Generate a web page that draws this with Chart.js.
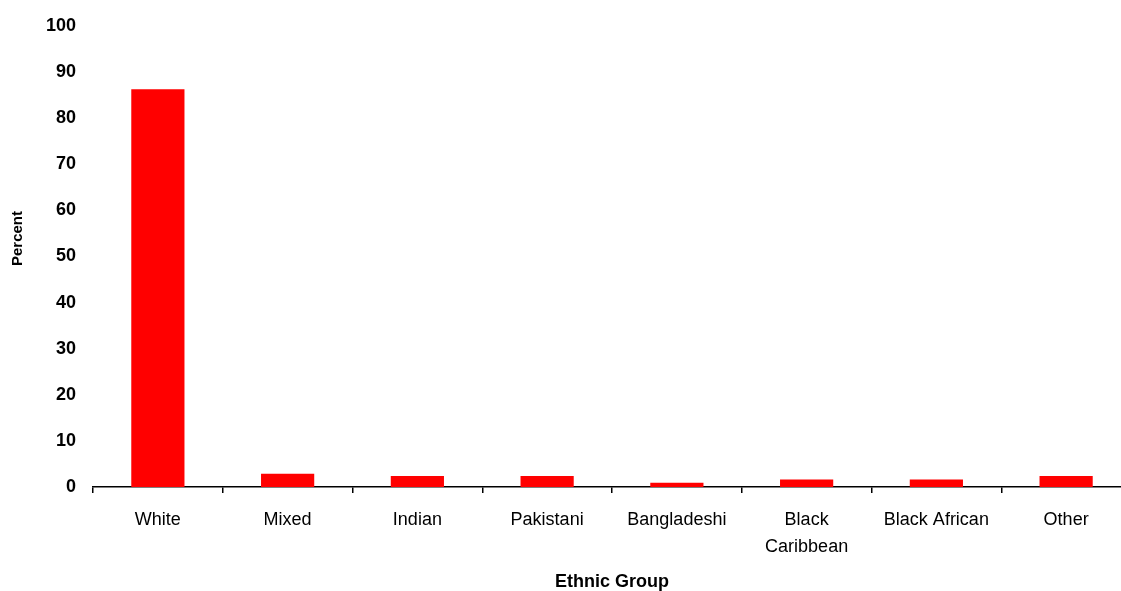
<!DOCTYPE html>
<html>
<head>
<meta charset="utf-8">
<script src="https://cdn.jsdelivr.net/npm/chart.js@4.4.1/dist/chart.umd.min.js"></script>
<style>
  html, body { margin: 0; padding: 0; background: #fff; overflow: hidden; }
  #wrap { position: relative; width: 1131px; height: 591px; }
</style>
</head>
<body>
<div id="wrap"><canvas id="chart"></canvas></div>
<script>
// Ethnic group shares, percent of population
const categories = ['White', 'Mixed', 'Indian', 'Pakistani', 'Bangladeshi', ['Black', 'Caribbean'], 'Black African', 'Other'];
const percentValues = [86.3, 2.9, 2.4, 2.4, 0.9, 1.6, 1.6, 2.4];
const yTicks = [0, 10, 20, 30, 40, 50, 60, 70, 80, 90, 100];
const yAxisTitle = 'Percent';

const FONT = '"Liberation Sans", Arial, sans-serif';

// Vertical axis title, placed a little above the middle of the plot
const yTitlePlugin = {
  id: 'yTitle',
  afterDraw(chart) {
    const { ctx, chartArea } = chart;
    ctx.save();
    ctx.translate(18, chartArea.bottom / 2 - 5);
    ctx.rotate(-Math.PI / 2);
    ctx.font = 'bold 15px ' + FONT;
    ctx.fillStyle = '#000';
    ctx.textAlign = 'center';
    ctx.textBaseline = 'middle';
    ctx.fillText(yAxisTitle, 0, 0);
    ctx.restore();
  }
};

new Chart(document.getElementById('chart'), {
  type: 'bar',
  data: {
    labels: categories,
    datasets: [{
      label: yAxisTitle,
      data: percentValues,
      backgroundColor: '#ff0000',
      borderWidth: 0,
      barPercentage: 0.41,
      categoryPercentage: 1.0
    }]
  },
  plugins: [yTitlePlugin],
  options: {
    responsive: true,
    maintainAspectRatio: false,
    animation: false,
    layout: { padding: { top: 0, right: 0, bottom: 0, left: 0 } },
    plugins: {
      legend: { display: false },
      tooltip: { enabled: false }
    },
    scales: {
      x: {
        offset: true,
        grid: {
          display: true,
          drawOnChartArea: false,
          drawTicks: true,
          tickLength: 6,
          color: '#000',
          lineWidth: 1.5,
          offset: true
        },
        border: { display: true, color: '#000', width: 1.5 },
        ticks: {
          color: '#000',
          maxRotation: 0,
          autoSkip: false,
          padding: 14,
          font: { family: FONT, size: 18, lineHeight: 1.5 }
        },
        title: {
          display: true,
          text: 'Ethnic Group',
          color: '#000',
          font: { family: FONT, size: 18, weight: 'bold', lineHeight: 1.0 },
          padding: { top: 0, bottom: 0 }
        },
        afterFit: (s) => { s.height = 104; }
      },
      y: {
        min: 0,
        max: 100,
        afterBuildTicks: (s) => { s.ticks = yTicks.map(v => ({ value: v })); },
        grid: { display: false, drawTicks: false },
        border: { display: false },
        ticks: {
          color: '#000',
          padding: 17,
          font: { family: FONT, size: 18, weight: 'bold', lineHeight: 1.0 }
        },
        title: { display: false },
        afterFit: (s) => { s.width = 93; }
      }
    }
  }
});
</script>
</body>
</html>
